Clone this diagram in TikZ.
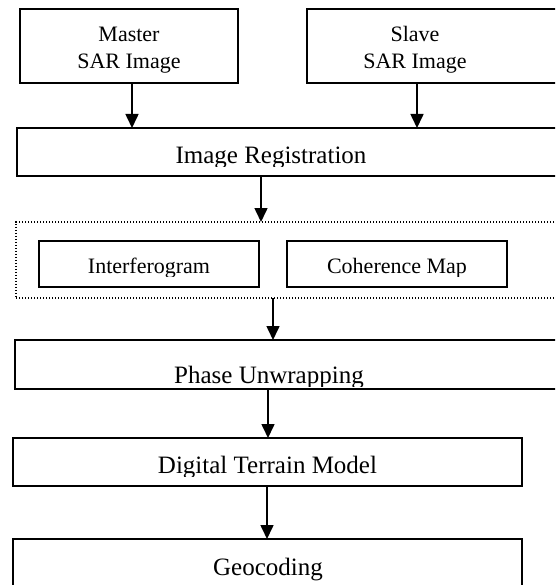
\documentclass[tikz,border=0pt]{standalone}
\usepackage{fontspec}
\setmainfont{Liberation Serif}
\usetikzlibrary{arrows.meta}
\tikzset{
  box/.style={draw, line width=1.6pt, inner sep=0pt, outer sep=0pt, fill=white},
  dotbox/.style={draw, line width=1.2pt, dash pattern=on 1.3pt off 1.7pt, inner sep=0pt, outer sep=0pt},
  lbl/.style={inner sep=0pt, anchor=base, font=\fontsize{25}{27}\selectfont},
  slbl/.style={inner sep=0pt, anchor=base, font=\fontsize{22}{26.5}\selectfont},
  arr/.style={line width=1.6pt, -{Triangle[width=13pt,length=14pt]}}
}
\begin{document}
\begin{tikzpicture}[x=1pt,y=-1pt]
\clip (0,0) rectangle (555,585);
\fill[white] (0,0) rectangle (555,585);
% boxes
\node[box, minimum width=218pt, minimum height=74pt] (master) at (129,46) {};
\node[box, minimum width=300pt, minimum height=74pt] (slave) at (457,46) {};
\node[box, minimum width=600pt, minimum height=48pt] (reg) at (317,152) {};
\node[dotbox, minimum width=600pt, minimum height=76pt] (grp) at (316,260) {};
\node[box, minimum width=220pt, minimum height=46pt] (ifg) at (149,264) {};
\node[box, minimum width=220pt, minimum height=46pt] (coh) at (397,264) {};
\node[box, minimum width=600pt, minimum height=49pt] (unw) at (315,364.5) {};
\node[box, minimum width=509pt, minimum height=48pt] (dtm) at (267.5,462) {};
\node[box, minimum width=509pt, minimum height=60pt] (geo) at (267.5,569) {};
% labels
\node[slbl] (masterA) at (129,42) {Master};
\node[slbl] (masterB) at (129,68.5) {SAR Image};
\node[slbl] (slaveA) at (415,42) {Slave};
\node[slbl] (slaveB) at (415,68.5) {SAR Image};
\begin{scope}
  \clip (0,130) rectangle (555,166.8);
  \node[lbl] (regT) at (271,163.4) {Image Registration};
\end{scope}
\begin{scope}
  \clip (0,243) rectangle (555,276.8);
  \node[slbl] (ifgT) at (149,273.4) {Interferogram};
  \node[slbl] (cohT) at (397,273.4) {Coherence Map};
\end{scope}
\begin{scope}
  \clip (0,342) rectangle (555,386.8);
  \node[lbl] (unwT) at (269,383.4) {Phase Unwrapping};
\end{scope}
\begin{scope}
  \clip (0,440) rectangle (555,476.8);
  \node[lbl] (dtmT) at (267.5,473.4) {Digital Terrain Model};
\end{scope}
\node[lbl] (geoT) at (268,575.5) {Geocoding};
% connectors
\coordinate (m1) at (132,83);
\coordinate (s1) at (417,83);
\draw[arr] (m1) -- (m1 |- reg.north);
\draw[arr] (s1) -- (s1 |- reg.north);
\coordinate (r1) at (261,176);
\draw[arr] (r1) -- (r1 |- grp.north);
\coordinate (g1) at (273,298);
\draw[arr] (g1) -- (g1 |- unw.north);
\coordinate (u1) at (268,389);
\draw[arr] (u1) -- (u1 |- dtm.north);
\coordinate (d1) at (267,486);
\draw[arr] (d1) -- (d1 |- geo.north);
\end{tikzpicture}
\end{document}
